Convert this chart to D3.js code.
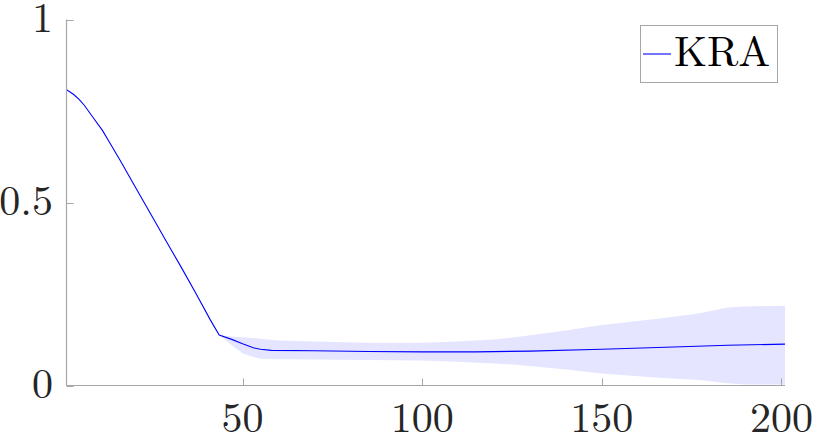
<!DOCTYPE html>
<html><head><meta charset="utf-8">
<script src="https://cdn.jsdelivr.net/npm/d3@7"></script>
<style>html,body{margin:0;padding:0;background:#fff;}svg{display:block;}</style>
</head><body>
<svg id="chart" width="814" height="436"></svg>
<script>
const seriesName = "KRA";
const xTicks = [50, 100, 150, 200];
const yTicks = [0, 0.5, 1];
const yTickLabels = ["0", "0.5", "1"];

const lineX = [1, 2, 3, 4.5, 6, 8.5, 11, 13, 16, 20.5, 25, 29, 33, 37, 41, 43.5, 47, 50, 53, 55, 58, 70, 85, 100, 115, 130, 150, 170, 185, 201];
const lineY = [0.808, 0.802, 0.795, 0.782, 0.765, 0.731, 0.697, 0.664, 0.614, 0.536, 0.459, 0.390, 0.322, 0.252, 0.180, 0.138, 0.126, 0.114, 0.103, 0.099, 0.096, 0.095, 0.093, 0.092, 0.092, 0.094, 0.099, 0.105, 0.110, 0.113];

const bandX = [43.5, 47, 50, 53, 55, 60, 70, 85, 100, 110, 120, 127, 140, 150, 165, 177, 185, 190, 201];
const bandUpper = [0.138, 0.134, 0.132, 0.130, 0.128, 0.123, 0.120, 0.117, 0.117, 0.120, 0.126, 0.133, 0.150, 0.165, 0.182, 0.197, 0.213, 0.216, 0.218];
const bandLower = [0.138, 0.110, 0.088, 0.078, 0.073, 0.072, 0.071, 0.070, 0.068, 0.065, 0.060, 0.056, 0.044, 0.033, 0.022, 0.015, 0.006, 0.003, 0.003];

const svg = d3.select("#chart");
const x = d3.scaleLinear().domain([1, 201]).range([66.5, 785]);
const y = d3.scaleLinear().domain([0, 1]).range([385.5, 19.5]);
const FONT = '"Latin Modern Roman", "Liberation Serif", serif';

const band = bandX.map((d, i) => ({x: d, lo: bandLower[i], hi: bandUpper[i]}));
svg.append("path").datum(band)
  .attr("fill", "#e5e5ff").attr("stroke", "none")
  .attr("d", d3.area().x(d => x(d.x)).y0(d => y(d.lo)).y1(d => y(d.hi)));

const pts = lineX.map((d, i) => ({x: d, y: lineY[i]}));
svg.append("path").datum(pts)
  .attr("fill", "none").attr("stroke", "#0000ff").attr("stroke-width", 1.1)
  .attr("d", d3.line().x(d => x(d.x)).y(d => y(d.y)));

const axisColor = "#a6a6a6";
svg.append("line").attr("x1", x(1)).attr("x2", x(1)).attr("y1", y(1)).attr("y2", y(0))
  .attr("stroke", axisColor).attr("stroke-width", 1.2);
svg.append("line").attr("x1", x(1)).attr("x2", x(201)).attr("y1", y(0)).attr("y2", y(0))
  .attr("stroke", axisColor).attr("stroke-width", 1.2);

xTicks.forEach(t => {
  svg.append("line").attr("x1", Math.round(x(t)) + 0.5).attr("x2", Math.round(x(t)) + 0.5)
    .attr("y1", y(0)).attr("y2", y(0) - 7).attr("stroke", axisColor).attr("stroke-width", 1);
  svg.append("text").attr("x", x(t)).attr("y", 432)
    .attr("text-anchor", "middle")
    .style("font-family", FONT).style("font-size", "42px")
    .attr("fill", "#262626").text(t);
});
yTicks.forEach((t, i) => {
  svg.append("line").attr("x1", x(1)).attr("x2", x(1) + 7)
    .attr("y1", Math.round(y(t)) + 0.5).attr("y2", Math.round(y(t)) + 0.5)
    .attr("stroke", axisColor).attr("stroke-width", 1);
  svg.append("text").attr("x", 53).attr("y", y(t) + 12)
    .attr("text-anchor", "end")
    .style("font-family", FONT).style("font-size", "42px")
    .attr("fill", "#262626").text(yTickLabels[i]);
});

svg.append("rect").attr("x", 640.5).attr("y", 25.5).attr("width", 137).attr("height", 57)
  .attr("fill", "#fff").attr("stroke", axisColor).attr("stroke-width", 1);
svg.append("line").attr("x1", 643).attr("x2", 671).attr("y1", 54).attr("y2", 54)
  .attr("stroke", "#0000ff").attr("stroke-width", 1.1);
svg.append("text").attr("x", 674).attr("y", 66)
  .style("font-family", FONT).style("font-size", "42.5px")
  .attr("fill", "#000").text(seriesName);
</script>
</body></html>
